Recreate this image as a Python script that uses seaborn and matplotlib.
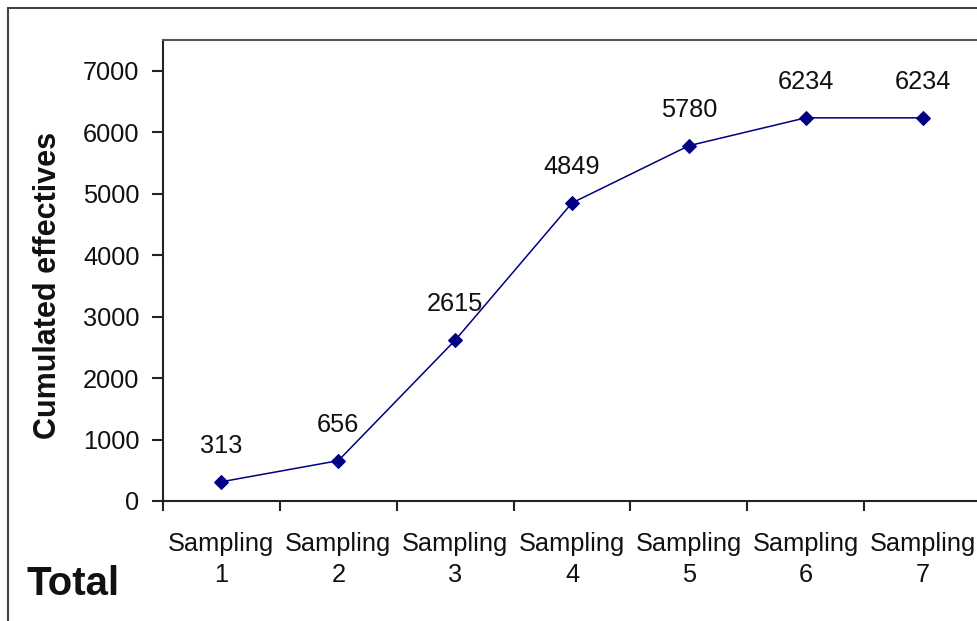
import matplotlib
matplotlib.use("Agg")
import matplotlib.pyplot as plt
from matplotlib.patches import Rectangle
from matplotlib.ticker import FixedLocator, NullFormatter
import seaborn as sns
import pandas as pd

# Cumulated number of individuals after each sampling campaign
samplings = ["Sampling\n1", "Sampling\n2", "Sampling\n3", "Sampling\n4",
             "Sampling\n5", "Sampling\n6", "Sampling\n7"]
cumulated = [313, 656, 2615, 4849, 5780, 6234, 6234]
y_ticks = [0, 1000, 2000, 3000, 4000, 5000, 6000, 7000]

sns.set_theme(style="white")
plt.rcParams["font.family"] = ["Liberation Sans", "DejaVu Sans"]

df = pd.DataFrame({"sampling": samplings, "cumulated": cumulated})
df["pos"] = range(len(df))

W, H = 978, 621
fig = plt.figure(figsize=(W / 100, H / 100), dpi=100)
ax = fig.add_axes([163 / W, 1 - 501 / H, (981 - 163) / W, (501 - 40) / H])

navy = "#000080"
sns.lineplot(data=df, x="pos", y="cumulated", ax=ax, color=navy, linewidth=1.1,
             marker="D", markersize=7.5, markeredgecolor=navy,
             markerfacecolor=navy, sort=False)

ax.set_xlim(-0.5, len(samplings) - 0.5)
ax.set_ylim(0, 7500)
ax.set_yticks(y_ticks)
ax.set_yticklabels([str(v) for v in y_ticks], fontsize=18.3, color="#111111")

# category labels centred, tick marks on the category boundaries
ax.set_xticks(df["pos"])
ax.set_xticklabels(samplings, fontsize=18.3, color="#111111", linespacing=1.35)
ax.xaxis.set_minor_locator(FixedLocator([i - 0.5 for i in range(len(samplings) + 1)]))
ax.xaxis.set_minor_formatter(NullFormatter())
ax.tick_params(axis="x", which="major", length=0, pad=22.5)
ax.tick_params(axis="x", which="minor", length=7, width=1.5, color="#222222",
               direction="out", bottom=True)
ax.tick_params(axis="y", length=8, width=1.5, color="#222222", direction="out",
               left=True, pad=9)

ax.set_xlabel("")
ax.set_ylabel("Cumulated effectives", fontsize=22, fontweight="bold",
              color="#111111")
ax.yaxis.set_label_coords(-0.1225, 0.468)

for side in ["left", "bottom"]:
    ax.spines[side].set_color("#222222")
    ax.spines[side].set_linewidth(1.5)
ax.spines["top"].set_color("#555555")
ax.spines["top"].set_linewidth(1.5)
ax.spines["right"].set_visible(False)

# value labels above each point
for x, v in zip(df["pos"], df["cumulated"]):
    ax.annotate(str(v), (x, v), xytext=(0, 21), textcoords="offset points",
                ha="center", va="baseline", fontsize=18.3, color="#111111")

# outer chart frame
fig.patches.append(Rectangle((8 / W, -0.2), 1.5, 1.2 - 8 / H,
                             transform=fig.transFigure, fill=False,
                             edgecolor="#444444", linewidth=1.5))

fig.text(27 / W, 1 - 595 / H, "Total", fontsize=29, fontweight="bold",
         color="#111111", ha="left", va="baseline")

fig.savefig("out.png", dpi=100)
